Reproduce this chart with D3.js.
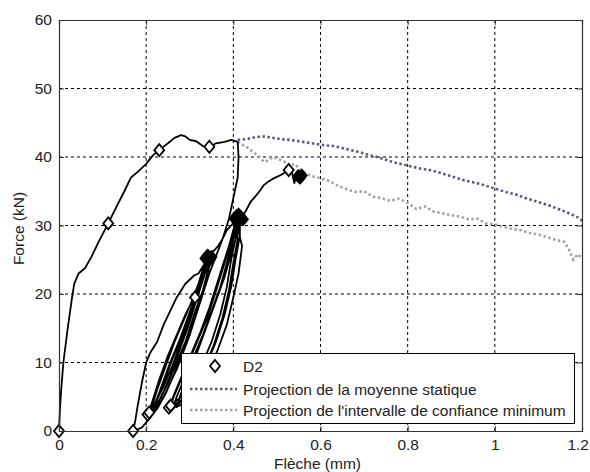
<!DOCTYPE html>
<html><head><meta charset="utf-8">
<script src="https://cdn.jsdelivr.net/npm/d3@7"></script>
<style>body{margin:0;background:#fff}svg{display:block}text{font-family:Arial,"Liberation Sans",sans-serif}</style>
</head><body>
<svg id="c" width="590" height="472"></svg>
<script>
// ---- data ----
const xTicks = [0, 0.2, 0.4, 0.6, 0.8, 1, 1.2];
const yTicks = [0, 10, 20, 30, 40, 50, 60];
const xTickLabels = ["0", "0.2", "0.4", "0.6", "0.8", "1", "1.2"];
const yTickLabels = ["0", "10", "20", "30", "40", "50", "60"];
const legendLabels = ["D2", "Projection de la moyenne statique", "Projection de l'intervalle de confiance minimum"];

// D2 cyclic curve (deflection mm, force kN)
const d2X = [0,0.002,0.005,0.01,0.02,0.03,0.035,0.045,0.06,0.075,0.09,0.113,0.13,0.15,0.165,0.18,0.2,0.215,0.23,0.25,0.265,0.28,0.29,0.30,0.315,0.33,0.345,0.36,0.38,0.395,0.41,
  0.412,0.41,0.40,0.39,0.375,0.36,0.345,0.325,0.30,0.27,0.24,0.21,0.19,0.17,
  0.175,0.18,0.19,0.2,0.21,0.225,0.24,0.255,0.27,0.29,0.31,0.32,0.33,0.34,0.345,
  0.335,0.32,0.30,0.28,0.26,0.24,0.22,0.205,
  0.215,0.23,0.25,0.27,0.29,0.31,0.325,0.34,
  0.33,0.315,0.295,0.275,0.255,0.235,0.21,
  0.225,0.245,0.265,0.285,0.305,0.32,0.338,
  0.34,0.33,0.31,0.29,0.27,0.25,0.23,0.215,
  0.235,0.255,0.275,0.295,0.315,0.33,0.346,
  0.34,0.325,0.305,0.285,0.265,0.245,0.225,0.21,
  0.22,0.24,0.26,0.28,0.30,0.32,0.335,0.342,
  0.355,0.365,0.375,0.385,0.395,0.405,0.412,
  0.405,0.395,0.385,0.37,0.35,0.33,0.305,0.28,0.262,0.253,
  0.265,0.285,0.305,0.325,0.345,0.36,0.375,0.39,0.405,
  0.41,0.40,0.39,0.375,0.355,0.335,0.31,0.285,0.26,
  0.27,0.29,0.31,0.33,0.35,0.37,0.385,0.40,0.415,
  0.415,0.405,0.395,0.38,0.36,0.34,0.315,0.29,0.265,0.255,
  0.262,0.28,0.30,0.32,0.34,0.358,0.375,0.392,0.408,
  0.42,0.412,0.40,0.385,0.365,0.345,0.32,0.295,0.27,
  0.28,0.30,0.32,0.34,0.36,0.38,0.395,0.41,0.42,
  0.43,0.44,0.45,0.46,0.47,0.48,0.49,0.50,0.51,0.52,0.528,0.535,0.54,0.545,0.55,0.556,0.562];
const d2Y = [0,3,6,10,15,19.5,21.5,23,23.8,25.5,27.5,30.3,32.5,35,37,37.8,39,40.2,41,42,42.8,43.2,43,42.5,42.3,41.6,41.4,42,42.2,42.5,42.2,
  40,37,34,31,28,25.5,23,19,14,9,5,2,0.5,0,
  1.5,3.5,7,10,11.5,13,15.5,17.5,19.5,21.5,22.7,23,24,25,25.5,
  23,20,16.5,13,9.5,6.5,4,2.5,
  4.5,7.5,11,14,17,19.5,22,25,
  22.5,19,15,11.5,8,5,2.8,
  6,9.5,13,16,19,21.5,25.3,
  23,20.5,17,13,10,7,4.5,3,
  6.5,10,13,16.5,20,23,24.8,
  22,19,15.5,12,8.5,5.5,3.2,2.2,
  4,7,10.5,13.5,17,20.5,23.5,25.8,
  26.3,27,28,29.3,30,30.8,31.2,
  28,25,21,17,13,10,7,5,4,3.5,
  5.5,8.5,11.5,14.5,18,21,24,27,30.5,
  28,24.5,20.5,16.5,12.5,9.5,6.5,4.5,3.2,
  5,8,11,14,17.5,21,24.5,28,31.5,
  28.5,25,21,17,13,10,7,5,3.8,3.2,
  4.8,7.5,10.5,13.5,16.5,20,23.5,27,30.2,
  27,23,19.5,15.5,12,9,6,4.3,3.5,
  5.5,8.5,12,15.5,19,22.5,26,29,31.2,
  32.3,33.5,34.2,35,35.9,36.4,36.8,37.1,37.4,37.8,38.2,37.6,36.2,37.4,37.6,37,37.3];

// D2 open markers
const markX = [0,0.113,0.23,0.345,0.17,0.203,0.207,0.252,0.256,0.312,0.527];
const markY = [0,30.3,41,41.5,0,2.4,2.7,3.4,3.7,19.5,38.1];

// D2 overlapping-marker clusters at cycle peaks (appear as solid blobs)
const blobX = [0.336,0.341,0.346,0.350,0.343, 0.403,0.408,0.413,0.418,0.422,0.412, 0.549,0.553,0.557];
const blobY = [25.2,25.6,25.0,25.4,24.8, 31.0,31.4,30.8,31.2,30.9,31.6, 37.2,37.0,37.3];

// Projection of static mean
const meanX = [0.41,0.43,0.45,0.47,0.49,0.51,0.53,0.55,0.57,0.59,0.61,0.63,0.65,0.67,0.69,0.71,0.73,0.75,0.77,0.79,0.81,0.83,0.85,0.87,0.89,0.91,0.93,0.95,0.97,0.99,1.01,1.03,1.05,1.07,1.09,1.11,1.13,1.15,1.17,1.19,1.2];
const meanY = [42.5,42.6,42.9,43.0,42.8,42.6,42.5,42.3,42.1,41.9,41.7,41.6,41.3,41.0,40.7,40.3,40.0,39.6,39.2,38.9,38.6,38.3,38.1,37.8,37.4,37.0,36.6,36.3,36.0,35.6,35.2,34.8,34.5,34.0,33.6,33.2,32.8,32.3,31.8,31.2,30.7];

// Projection of minimum confidence interval
const minX = [0.41,0.42,0.43,0.44,0.45,0.46,0.47,0.48,0.49,0.50,0.51,0.52,0.53,0.54,0.55,0.56,0.58,0.60,0.62,0.64,0.66,0.68,0.70,0.72,0.74,0.76,0.78,0.80,0.82,0.84,0.86,0.88,0.90,0.92,0.94,0.96,0.98,1.00,1.02,1.04,1.06,1.08,1.10,1.12,1.14,1.16,1.17,1.18,1.19,1.2];
const minY = [42.2,41.8,41.5,41.0,40.5,40.0,39.3,39.5,40.0,39.8,39.5,39.2,38.7,39.0,38.4,37.8,37.2,36.9,36.5,35.8,35.3,34.9,35.0,34.2,34.0,33.6,33.9,33.3,32.4,32.8,32.0,31.8,31.5,31.3,30.9,31.0,30.3,30.2,29.8,29.5,29.3,28.9,28.7,28.3,27.9,27.6,26.5,25.0,25.8,25.2];

// ---- drawing ----
const svg = d3.select("#c");
const L = 59, R = 582, T = 20, B = 431;
const x = d3.scaleLinear().domain([0, 1.2]).range([L, R]);
const y = d3.scaleLinear().domain([0, 60]).range([B, T]);
const fontSize = 15.5;
const textCol = "#222";

// grid
const grid = svg.append("g");
xTicks.slice(1, -1).forEach(t => grid.append("line")
  .attr("x1", x(t)).attr("x2", x(t)).attr("y1", T).attr("y2", B)
  .attr("stroke", "#000").attr("stroke-width", 1).attr("stroke-dasharray", "3,3"));
yTicks.slice(1, -1).forEach(t => grid.append("line")
  .attr("x1", L).attr("x2", R).attr("y1", y(t)).attr("y2", y(t))
  .attr("stroke", "#000").attr("stroke-width", 1).attr("stroke-dasharray", "3,3"));

// axes (ticks inward, box)
const xAxB = d3.axisBottom(x).tickValues(xTicks).tickSize(-5).tickPadding(8)
  .tickFormat((d, i) => xTickLabels[i]);
const xAxT = d3.axisTop(x).tickValues(xTicks).tickSize(-5).tickFormat("");
const yAxL = d3.axisLeft(y).tickValues(yTicks).tickSize(-5).tickPadding(7)
  .tickFormat((d, i) => yTickLabels[i]);
const yAxR = d3.axisRight(y).tickValues(yTicks).tickSize(-5).tickFormat("");

function styleAxis(g) {
  g.selectAll("path").attr("stroke", "#333").attr("stroke-width", 1.2);
  g.selectAll("line").attr("stroke", "#333").attr("stroke-width", 1);
  g.selectAll("text").attr("fill", textCol).style("font-size", fontSize + "px")
    .style("font-family", "Arial, 'Liberation Sans', sans-serif");
}

// data layers
const line = d3.line().x(d => x(d[0])).y(d => y(d[1]));
const meanPts = meanX.map((v, i) => [v, meanY[i]]);
const minPts = minX.map((v, i) => [v, minY[i]]);
const d2Pts = d2X.map((v, i) => [v, d2Y[i]]);

svg.append("path").datum(minPts).attr("d", line).attr("fill", "none")
  .attr("stroke", "#a3a3a3").attr("stroke-width", 2.6).attr("stroke-dasharray", "2.5,2.5");
svg.append("path").datum(meanPts).attr("d", line).attr("fill", "none")
  .attr("stroke", "#5a5a80").attr("stroke-width", 2.6).attr("stroke-dasharray", "2.5,2.5");
svg.append("path").datum(d2Pts).attr("d", line).attr("fill", "none")
  .attr("stroke", "#000").attr("stroke-width", 1.8).attr("stroke-linejoin", "round");

const diamond = "M0,-6L5,0L0,6L-5,0Z";
svg.append("g").selectAll("path").data(blobX.map((v, i) => [v, blobY[i]])).join("path")
  .attr("d", diamond).attr("transform", d => `translate(${x(d[0])},${y(d[1])})`)
  .attr("fill", "#000").attr("stroke", "#000").attr("stroke-width", 1.8).attr("stroke-linejoin", "round");
svg.append("g").selectAll("path").data(markX.map((v, i) => [v, markY[i]])).join("path")
  .attr("d", diamond).attr("transform", d => `translate(${x(d[0])},${y(d[1])})`)
  .attr("fill", "#fff").attr("stroke", "#000").attr("stroke-width", 1.8);

svg.append("g").attr("transform", `translate(0,${B})`).call(xAxB).call(styleAxis);
svg.append("g").attr("transform", `translate(0,${T})`).call(xAxT).call(styleAxis);
svg.append("g").attr("transform", `translate(${L},0)`).call(yAxL).call(styleAxis);
svg.append("g").attr("transform", `translate(${R},0)`).call(yAxR).call(styleAxis);
// keep last tick label inside the window edge
svg.selectAll("text").filter(function () { return this.textContent === "1.2"; })
  .attr("text-anchor", "end").attr("dx", 6.5);

// axis titles
svg.append("text").attr("x", (L + R) / 2 - 3).attr("y", 469).attr("text-anchor", "middle")
  .attr("fill", textCol).style("font-size", fontSize + "px").text("Flèche (mm)");
svg.append("text").attr("transform", `translate(24,${(T + B) / 2 + 3}) rotate(-90)`)
  .attr("text-anchor", "middle").attr("fill", textCol).style("font-size", fontSize + "px").text("Force (kN)");

// legend
const lg = svg.append("g");
lg.append("rect").attr("x", 181.5).attr("y", 353.5).attr("width", 393).attr("height", 70)
  .attr("fill", "#fff").attr("stroke", "#000").attr("stroke-width", 1);
const rowsY = [366, 389, 410];
lg.append("path").attr("d", diamond).attr("transform", `translate(215,${rowsY[0]})`)
  .attr("fill", "#fff").attr("stroke", "#000").attr("stroke-width", 1.8);
lg.append("line").attr("x1", 190).attr("x2", 237).attr("y1", rowsY[1]).attr("y2", rowsY[1])
  .attr("stroke", "#5a5a80").attr("stroke-width", 2.6).attr("stroke-dasharray", "2.5,2.5");
lg.append("line").attr("x1", 190).attr("x2", 237).attr("y1", rowsY[2]).attr("y2", rowsY[2])
  .attr("stroke", "#a3a3a3").attr("stroke-width", 2.6).attr("stroke-dasharray", "2.5,2.5");
legendLabels.forEach((t, i) => lg.append("text").attr("x", 243).attr("y", rowsY[i] + 5.5)
  .attr("fill", textCol).style("font-size", fontSize + "px").text(t));
</script>
</body></html>
